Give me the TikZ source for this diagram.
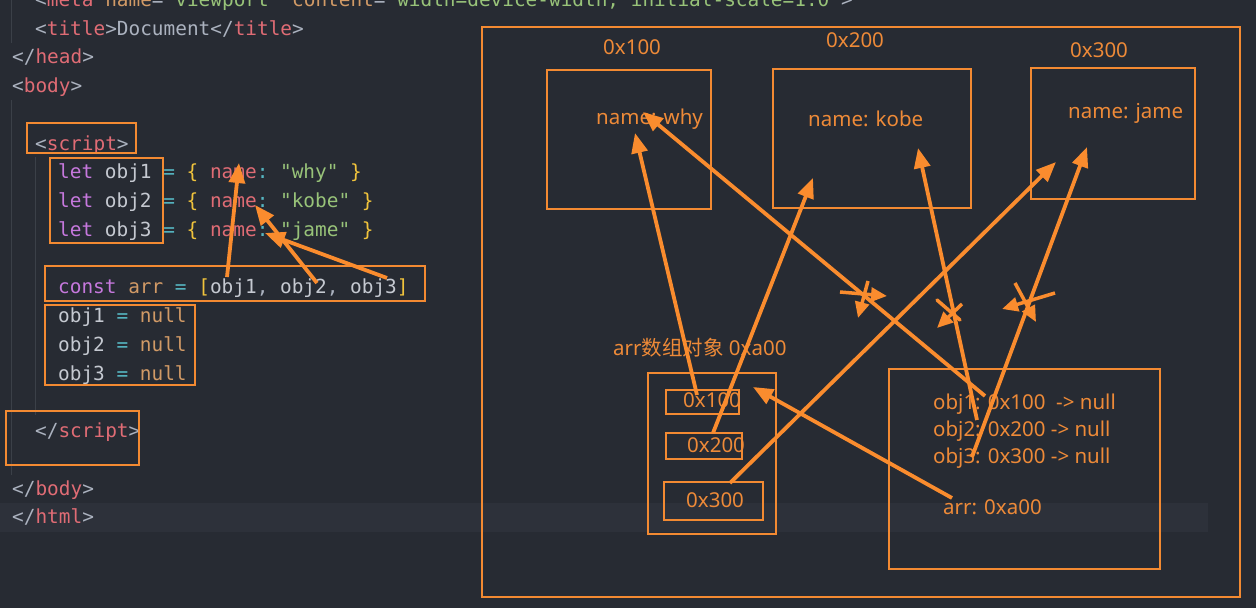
\documentclass[tikz,border=0pt]{standalone}
\usepackage{fontspec}
\setmonofont{DejaVu Sans Mono}
\newfontfamily\dfont{Noto Sans}
\newfontfamily\cjk{Noto Sans CJK SC}
\usetikzlibrary{arrows.meta}
\definecolor{bg}{HTML}{272B33}
\definecolor{band}{HTML}{2D313A}
\definecolor{guide}{HTML}{3B4048}
\definecolor{pun}{HTML}{ABB2BF}
\definecolor{tagc}{HTML}{E06C75}
\definecolor{attc}{HTML}{D19A66}
\definecolor{strc}{HTML}{98C379}
\definecolor{kwc}{HTML}{C678DD}
\definecolor{varc}{HTML}{C5C9D1}
\definecolor{opc}{HTML}{56B6C2}
\definecolor{brc}{HTML}{F0C33C}
\definecolor{orc}{HTML}{D19A66}
\definecolor{boxc}{HTML}{F38A32}
\definecolor{arrowc}{HTML}{FA8C2E}
\definecolor{txtc}{HTML}{EE8A38}
\newcommand\tkc[2]{\textcolor{#1}{#2}}
\tikzset{
  code/.style={anchor=base west, inner sep=0pt, font=\ttfamily\fontsize{19.4}{23}\selectfont, text=pun},
  diag/.style={anchor=base west, inner sep=0pt, font=\dfont\fontsize{20.5}{24}\selectfont, text=txtc},
  obox/.style={draw=boxc, line width=2pt},
  conn/.style={draw=arrowc, line width=3.8pt, -{Triangle[length=20pt,width=16pt]}},
  markline/.style={draw=arrowc, line width=3.5pt, line cap=round},
  markarr/.style={draw=arrowc, line width=3.5pt, -{Triangle[length=16pt,width=14pt]}},
}
\begin{document}
\begin{tikzpicture}[x=1pt,y=-1pt]
\useasboundingbox (0,0) rectangle (1256,608);
\clip (0,0) rectangle (1256,608);
\fill[bg] (0,0) rectangle (1256,608);
\fill[band] (0,503) rectangle (1208,532);
% indent guides
\draw[guide, line width=1pt] (11.5,0) -- (11.5,43);
\draw[guide, line width=1pt] (11.5,100) -- (11.5,475);
\draw[guide, line width=1pt] (35,157) -- (35,415);
% code
\node[code] (l0) at (35,6) {<\tkc{tagc}{meta} \tkc{attc}{name}=\tkc{strc}{"viewport"} \tkc{attc}{content}=\tkc{strc}{"width=device-width, initial-scale=1.0"}>};
\node[code] (l1) at (35,35) {<\tkc{tagc}{title}>Document</\tkc{tagc}{title}>};
\node[code] (l2) at (12,63.75) {</\tkc{tagc}{head}>};
\node[code] (l3) at (12,92.5) {<\tkc{tagc}{body}>};
\node[code] (l5) at (35,150) {<\tkc{tagc}{script}>};
\node[code] (l6) at (58,178.75) {\tkc{kwc}{let} \tkc{varc}{obj1} \tkc{opc}{=} \tkc{brc}{\{} \tkc{tagc}{name}\tkc{opc}{:} \tkc{strc}{"why"} \tkc{brc}{\}}};
\node[code] (l7) at (58,207.5) {\tkc{kwc}{let} \tkc{varc}{obj2} \tkc{opc}{=} \tkc{brc}{\{} \tkc{tagc}{name}\tkc{opc}{:} \tkc{strc}{"kobe"} \tkc{brc}{\}}};
\node[code] (l8) at (58,236.25) {\tkc{kwc}{let} \tkc{varc}{obj3} \tkc{opc}{=} \tkc{brc}{\{} \tkc{tagc}{name}\tkc{opc}{:} \tkc{strc}{"jame"} \tkc{brc}{\}}};
\node[code] (l10) at (58,293.75) {\tkc{kwc}{const} \tkc{orc}{arr} \tkc{opc}{=} \tkc{brc}{[}\tkc{varc}{obj1}, \tkc{varc}{obj2}, \tkc{varc}{obj3}\tkc{brc}{]}};
\node[code] (l11) at (58,322.5) {\tkc{varc}{obj1} \tkc{opc}{=} \tkc{orc}{null}};
\node[code] (l12) at (58,351.25) {\tkc{varc}{obj2} \tkc{opc}{=} \tkc{orc}{null}};
\node[code] (l13) at (58,380) {\tkc{varc}{obj3} \tkc{opc}{=} \tkc{orc}{null}};
\node[code] (l15) at (35,437.5) {</\tkc{tagc}{script}>};
\node[code] (l17) at (12,495) {</\tkc{tagc}{body}>};
\node[code] (l18) at (12,523.75) {</\tkc{tagc}{html}>};
% code boxes
\draw[obox] (27,123) rectangle (136,153);
\draw[obox] (50,158) rectangle (163,243);
\draw[obox] (45,266) rectangle (425,301);
\draw[obox] (45,305) rectangle (195,385);
\draw[obox] (6,411) rectangle (139,465);
% code arrows
\coordinate (c1s) at (227,277); \coordinate (c1e) at (239,163);
\coordinate (c2s) at (317,283); \coordinate (c2e) at (255,205);
\coordinate (c3s) at (387,278); \coordinate (c3e) at (265,233);
\draw[conn] (c1s) -- (c1e);
\draw[conn] (c2s) -- (c2e);
\draw[conn] (c3s) -- (c3e);
% diagram
\draw[obox] (482,27) rectangle (1240,597);
\draw[obox] (547,70) rectangle (711,209);
\draw[obox] (773,69) rectangle (971,208);
\draw[obox] (1031,68) rectangle (1195,199);
\node[diag] (h1) at (603,54) {0x100};
\node[diag] (h2) at (826,47) {0x200};
\node[diag] (h3) at (1070,57) {0x300};
\node[diag] (n1) at (596,124) {name: why};
\node[diag] (n2) at (808,126) {name: kobe};
\node[diag] (n3) at (1068,118) {name: jame};
\node[diag] (arrl) at (613,355) {arr{\cjk 数组对象} 0xa00};
\draw[obox] (648,373) rectangle (776,534);
\draw[obox] (666,390) rectangle (739,414);
\draw[obox] (666,433) rectangle (742,459);
\draw[obox] (664,482) rectangle (763,520);
\node[diag] (e1) at (683,407) {0x100};
\node[diag] (e2) at (687,452) {0x200};
\node[diag] (e3) at (686,507) {0x300};
\draw[obox] (889,369) rectangle (1160,569);
\node[diag] (s1) at (933,409) {obj1: 0x100\ \ -> null};
\node[diag] (s2) at (933,436) {obj2: 0x200 -> null};
\node[diag] (s3) at (933,463) {obj3: 0x300 -> null};
\node[diag] (s4) at (943,514) {arr: 0xa00};
% diagram arrows
\coordinate (a1s) at (985,396); \coordinate (a1e) at (643,112);
\coordinate (a2s) at (977,420); \coordinate (a2e) at (918,148);
\coordinate (a3s) at (972,457); \coordinate (a3e) at (1087,147);
\coordinate (a4s) at (952,498); \coordinate (a4e) at (753,387);
\coordinate (a5s) at (697,395); \coordinate (a5e) at (635,133);
\coordinate (a6s) at (713,433); \coordinate (a6e) at (813,178);
\coordinate (a7s) at (730,483); \coordinate (a7e) at (1056,162);
\draw[conn] (a1s) -- (a1e);
\draw[conn] (a2s) -- (a2e);
\draw[conn] (a3s) -- (a3e);
\draw[conn] (a4s) -- (a4e);
\draw[conn] (a5s) -- (a5e);
\draw[conn] (a6s) -- (a6e);
\draw[conn] (a7s) -- (a7e);
% cross-out marks
\coordinate (m1a) at (840,292); \coordinate (m1b) at (887,296);
\coordinate (m1c) at (868,281); \coordinate (m1d) at (858,318);
\draw[markarr] (m1a) -- (m1b);
\draw[markarr] (m1c) -- (m1d);
\coordinate (m2a) at (937,300); \coordinate (m2b) at (960,320);
\coordinate (m2c) at (962,304); \coordinate (m2d) at (937,328);
\draw[markline] (m2a) -- (m2b);
\draw[markarr] (m2c) -- (m2d);
\coordinate (m3a) at (1015,283); \coordinate (m3b) at (1036,322);
\coordinate (m3c) at (1055,293); \coordinate (m3d) at (1002,309);
\draw[markarr] (m3a) -- (m3b);
\draw[markarr] (m3c) -- (m3d);
\end{tikzpicture}
\end{document}
